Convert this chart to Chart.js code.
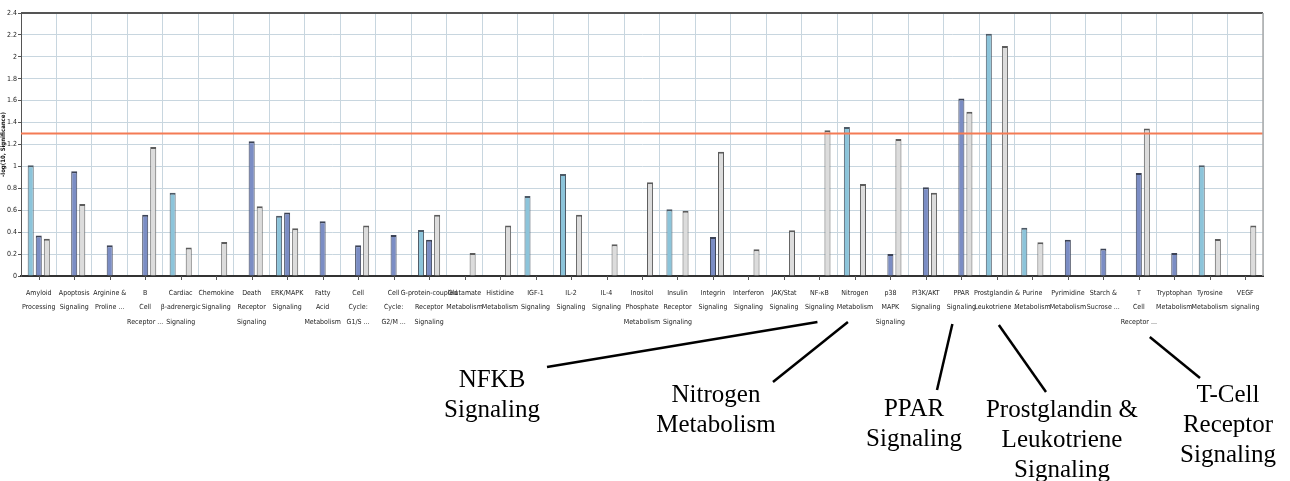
<!DOCTYPE html>
<html>
<head>
<meta charset="utf-8">
<script src="https://cdn.jsdelivr.net/npm/chart.js@4.4.1/dist/chart.umd.min.js"></script>
<style>
  html, body { margin: 0; padding: 0; background: #fff; }
  #wrap { width: 1290px; height: 481px; }
</style>
</head>
<body>
<div id="wrap"><canvas id="pathwayChart" width="1290" height="481"></canvas></div>
<script>
// pathway names (tick labels, split on lines like the original)
const categories = [
    ['Amyloid', 'Processing'], ['Apoptosis', 'Signaling'], ['Arginine &', 'Proline ...'],
    ['B', 'Cell', 'Receptor ...'], ['Cardiac', 'β-adrenergic', 'Signaling'], ['Chemokine', 'Signaling'],
    ['Death', 'Receptor', 'Signaling'], ['ERK/MAPK', 'Signaling'], ['Fatty', 'Acid', 'Metabolism'],
    ['Cell', 'Cycle:', 'G1/S ...'], ['Cell', 'Cycle:', 'G2/M ...'], ['G-protein-coupled', 'Receptor', 'Signaling'],
    ['Glutamate', 'Metabolism'], ['Histidine', 'Metabolism'], ['IGF-1', 'Signaling'],
    ['IL-2', 'Signaling'], ['IL-4', 'Signaling'], ['Inositol', 'Phosphate', 'Metabolism'],
    ['Insulin', 'Receptor', 'Signaling'], ['Integrin', 'Signaling'], ['Interferon', 'Signaling'],
    ['JAK/Stat', 'Signaling'], ['NF-κB', 'Signaling'], ['Nitrogen', 'Metabolism'],
    ['p38', 'MAPK', 'Signaling'], ['PI3K/AKT', 'Signaling'], ['PPAR', 'Signaling'],
    ['Prostglandin &', 'Leukotriene ...'], ['Purine', 'Metabolism'], ['Pyrimidine', 'Metabolism'],
    ['Starch &', 'Sucrose ...'], ['T', 'Cell', 'Receptor ...'], ['Tryptophan', 'Metabolism'],
    ['Tyrosine', 'Metabolism'], ['VEGF', 'signaling']
];

// -log(p) per pathway, null = no bar
const seriesLight = [1.01, null, null, null, 0.76, null, null, 0.55, null, null, null, 0.42,
    null, null, 0.73, 0.93, null, null, 0.61, null, null, null, null, 1.36,
    null, null, null, 2.21, 0.44, null, null, null, null, 1.01, null];
const seriesDark = [0.37, 0.955, 0.28, 0.56, null, null, 1.23, 0.58, 0.50, 0.28, 0.375, 0.33,
    null, null, null, null, null, null, null, 0.356, null, null, null, null,
    0.20, 0.81, 1.62, null, null, 0.33, 0.25, 0.94, 0.21, null, null];
const seriesGray = [0.34, 0.657, null, 1.177, 0.26, 0.31, 0.636, 0.435, null, 0.46, null, 0.56,
    0.21, 0.46, null, 0.56, 0.29, 0.855, 0.596, 1.134, 0.243, 0.417, 1.33, 0.84,
    1.25, 0.76, 1.50, 2.10, 0.307, null, null, 1.347, null, 0.338, 0.46];

const threshold = 1.3;   // -log(0.05)
const yMax = 2.4;
const yStep = 0.2;

// callouts below the axis
const callouts = [
    { lines: ['NFKB', 'Signaling'], cat: 22, tx: 492, ty: 387, dx: -2, topY: 322, endX: 547, endY: 367 },
    { lines: ['Nitrogen', 'Metabolism'], cat: 23, tx: 716, ty: 402, dx: -7, topY: 322, endX: 773, endY: 382 },
    { lines: ['PPAR', 'Signaling'], cat: 26, tx: 914, ty: 416, dx: -9, topY: 324, endX: 937, endY: 390 },
    { lines: ['Prostglandin &', 'Leukotriene', 'Signaling'], cat: 27, tx: 1062, ty: 417, dx: 2, topY: 325, endX: 1046, endY: 392 },
    { lines: ['T-Cell', 'Receptor', 'Signaling'], cat: 31, tx: 1228, ty: 402, dx: 11, topY: 337, endX: 1200, endY: 378 }
];

const extras = {
    id: 'extras',
    afterDatasetsDraw(chart) {
        const ctx = chart.ctx;
        const x = chart.scales.x;
        const y = chart.scales.y;
        const area = chart.chartArea;

        // significance threshold
        const ty = y.getPixelForValue(threshold);
        ctx.save();
        ctx.strokeStyle = '#f47b55';
        ctx.lineWidth = 2;
        ctx.beginPath();
        ctx.moveTo(area.left, ty);
        ctx.lineTo(area.right, ty);
        ctx.stroke();

        // frame top / right
        ctx.strokeStyle = '#555';
        ctx.lineWidth = 2;
        ctx.beginPath();
        ctx.moveTo(area.left, area.top);
        ctx.lineTo(area.right, area.top);
        ctx.stroke();
        ctx.strokeStyle = '#aaa';
        ctx.lineWidth = 1.5;
        ctx.beginPath();
        ctx.moveTo(area.right, area.top);
        ctx.lineTo(area.right, area.bottom);
        ctx.stroke();

        // tick marks at category centres
        ctx.strokeStyle = '#555';
        ctx.lineWidth = 1;
        for (let i = 0; i < categories.length; i++) {
            const px = Math.round(x.getPixelForValue(i)) + 0.5;
            ctx.beginPath();
            ctx.moveTo(px, area.bottom);
            ctx.lineTo(px, area.bottom + 4);
            ctx.stroke();
        }
        ctx.restore();
    },
    afterDraw(chart) {
        const ctx = chart.ctx;
        const x = chart.scales.x;
        ctx.save();
        ctx.strokeStyle = '#000';
        ctx.lineWidth = 2.5;
        ctx.fillStyle = '#000';
        ctx.font = '25px "Liberation Serif", "Times New Roman", serif';
        ctx.textAlign = 'center';
        ctx.textBaseline = 'alphabetic';
        callouts.forEach(c => {
            ctx.beginPath();
            ctx.moveTo(x.getPixelForValue(c.cat) + c.dx, c.topY);
            ctx.lineTo(c.endX, c.endY);
            ctx.stroke();
            c.lines.forEach((t, k) => ctx.fillText(t, c.tx, c.ty + k * 30));
        });
        ctx.restore();
    }
};

const barBorder = { top: 2, left: 1, right: 1, bottom: 0 };
const smallFont = '"DejaVu Sans Condensed", "Liberation Sans Narrow", "Liberation Sans", sans-serif';

new Chart(document.getElementById('pathwayChart').getContext('2d'), {
    type: 'bar',
    data: {
        labels: categories,
        datasets: [
            { label: 'A', data: seriesLight, backgroundColor: '#8cc4da', borderColor: '#4d5a66', borderWidth: barBorder },
            { label: 'B', data: seriesDark, backgroundColor: '#7b8dc4', borderColor: '#3c4356', borderWidth: barBorder },
            { label: 'C', data: seriesGray, backgroundColor: '#dcdcdc', borderColor: '#5c5c5c', borderWidth: barBorder }
        ]
    },
    options: {
        responsive: false,
        animation: false,
        maintainAspectRatio: false,
        layout: { padding: { left: 0, top: 13, right: 27, bottom: 0 } },
        plugins: {
            legend: { display: false },
            tooltip: { enabled: false }
        },
        datasets: {
            bar: { categoryPercentage: 0.68, barPercentage: 0.75, skipNull: false }
        },
        scales: {
            x: {
                grid: { color: '#c8d6df', lineWidth: 1, drawTicks: false, offset: true },
                border: { color: '#333', width: 2 },
                ticks: {
                    autoSkip: false,
                    maxRotation: 0,
                    minRotation: 0,
                    padding: 10,
                    color: '#222',
                    font: { family: smallFont, size: 7, lineHeight: 2.05 }
                },
                afterFit(scale) { scale.height = 205; }
            },
            y: {
                min: 0,
                max: yMax,
                ticks: {
                    stepSize: yStep,
                    padding: 1,
                    color: '#222',
                    font: { family: smallFont, size: 7 },
                    callback: v => String(+v.toFixed(1))
                },
                grid: { color: '#c8d6df', lineWidth: 1, tickLength: 3, tickColor: '#555' },
                border: { color: '#555', width: 1 },
                title: {
                    display: true,
                    text: '-log(10, Significance)',
                    color: '#111',
                    padding: 0,
                    font: { family: smallFont, size: 6, weight: 'bold' }
                },
                afterFit(scale) { scale.width = 21; }
            }
        }
    },
    plugins: [extras]
});
</script>
</body>
</html>
